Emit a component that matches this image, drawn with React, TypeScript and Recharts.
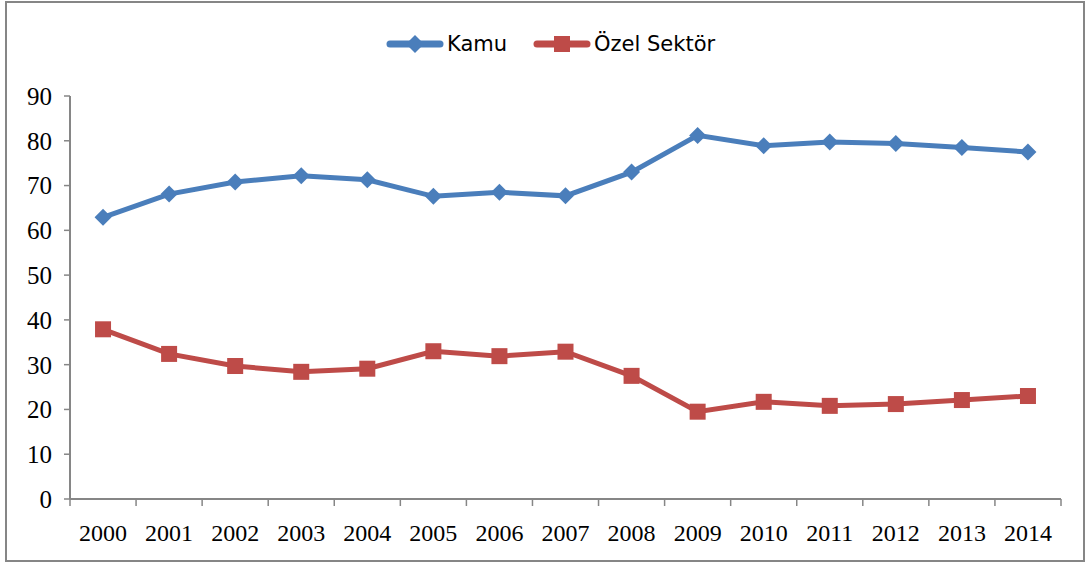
import React from 'react';
import { LineChart, Line, XAxis, YAxis } from 'recharts';

const YEARS = ['2000', '2001', '2002', '2003', '2004', '2005', '2006', '2007', '2008', '2009', '2010', '2011', '2012', '2013', '2014'];
const KAMU = [62.9, 68.1, 70.8, 72.2, 71.3, 67.6, 68.5, 67.7, 73.0, 81.2, 78.9, 79.7, 79.4, 78.5, 77.5];
const OZEL = [37.9, 32.4, 29.7, 28.4, 29.1, 33.0, 31.9, 32.9, 27.5, 19.5, 21.7, 20.8, 21.2, 22.1, 23.0];
const Y_TICKS = [0, 10, 20, 30, 40, 50, 60, 70, 80, 90];

const BLUE = '#4A7EBB';
const RED = '#BE4B48';
const AXIS = '#868686';

const data = YEARS.map((year, i) => ({ idx: i, year, kamu: KAMU[i], ozel: OZEL[i] }));
const CENTER_TICKS = YEARS.map((_, i) => i);
const BOUNDARY_TICKS = YEARS.map((_, i) => i - 0.5).concat(YEARS.length - 0.5);
const X_DOMAIN = [-0.5, YEARS.length - 0.5];

const serif = '"Liberation Serif", "Times New Roman", serif';
const sans = '"DejaVu Sans", sans-serif';

function Diamond(props: any) {
  const { cx, cy, fill } = props;
  if (cx == null || cy == null) return null;
  const r = 8.5;
  return <polygon points={`${cx},${cy - r} ${cx + r},${cy} ${cx},${cy + r} ${cx - r},${cy}`} fill={fill} />;
}

function Square(props: any) {
  const { cx, cy, fill } = props;
  if (cx == null || cy == null) return null;
  return <rect x={cx - 8} y={cy - 8} width={16} height={16} fill={fill} />;
}

function LegendItem({ color, label, shape }: { color: string; label: string; shape: 'diamond' | 'square' }) {
  return (
    <div style={{ display: 'flex', alignItems: 'center' }}>
      <svg width={58} height={20} style={{ display: 'block' }}>
        <line x1={4} y1={10} x2={54} y2={10} stroke={color} strokeWidth={7} strokeLinecap="round" />
        {shape === 'diamond' ? (
          <polygon points="29,1 38,10 29,19 20,10" fill={color} />
        ) : (
          <rect x={21} y={2} width={16} height={16} fill={color} />
        )}
      </svg>
      <span style={{ marginLeft: 3, fontFamily: sans, fontSize: 21, color: '#000' }}>{label}</span>
    </div>
  );
}

export default function App() {
  return (
    <div style={{ position: 'relative', width: 1086, height: 562, background: '#fff' }}>
      <style>{'body{margin:0}'}</style>
      <div
        style={{
          position: 'absolute',
          left: 5,
          top: 1,
          width: 1076,
          height: 557,
          border: `2px solid ${AXIS}`,
        }}
      />
      <div style={{ position: 'absolute', left: 386, top: 32, display: 'flex', gap: 26 }}>
        <LegendItem color={BLUE} label="Kamu" shape="diamond" />
        <LegendItem color={RED} label="Özel Sektör" shape="square" />
      </div>
      <div style={{ position: 'absolute', left: 0, top: 0 }}>
        <LineChart width={1086} height={562} data={data} margin={{ top: 96, right: 25, bottom: 15, left: 10 }}>
          <XAxis
            xAxisId="bounds"
            type="number"
            dataKey="idx"
            domain={X_DOMAIN}
            ticks={BOUNDARY_TICKS}
            tickFormatter={() => ''}
            tickLine={{ stroke: AXIS, strokeWidth: 1.5 }}
            axisLine={{ stroke: AXIS, strokeWidth: 2 }}
            tickSize={7}
            height={8}
            allowDataOverflow
          />
          <XAxis
            xAxisId="labels"
            type="number"
            dataKey="idx"
            domain={X_DOMAIN}
            ticks={CENTER_TICKS}
            tickFormatter={(v: number) => YEARS[v] ?? ''}
            axisLine={false}
            tickLine={false}
            tickSize={0}
            tickMargin={17}
            height={40}
            interval={0}
            tick={{ fontFamily: serif, fontSize: 24, fill: '#000' }}
            allowDataOverflow
          />
          <YAxis
            domain={[0, 90]}
            ticks={Y_TICKS}
            interval={0}
            width={60}
            axisLine={{ stroke: AXIS, strokeWidth: 2 }}
            tickLine={{ stroke: AXIS, strokeWidth: 1.5 }}
            tickSize={6}
            tickMargin={12}
            tick={{ fontFamily: serif, fontSize: 25, fill: '#000' }}
          />
          <Line
            xAxisId="labels"
            dataKey="kamu"
            stroke={BLUE}
            strokeWidth={5}
            dot={<Diamond fill={BLUE} />}
            activeDot={false}
            isAnimationActive={false}
          />
          <Line
            xAxisId="labels"
            dataKey="ozel"
            stroke={RED}
            strokeWidth={5}
            dot={<Square fill={RED} />}
            activeDot={false}
            isAnimationActive={false}
          />
        </LineChart>
      </div>
    </div>
  );
}
